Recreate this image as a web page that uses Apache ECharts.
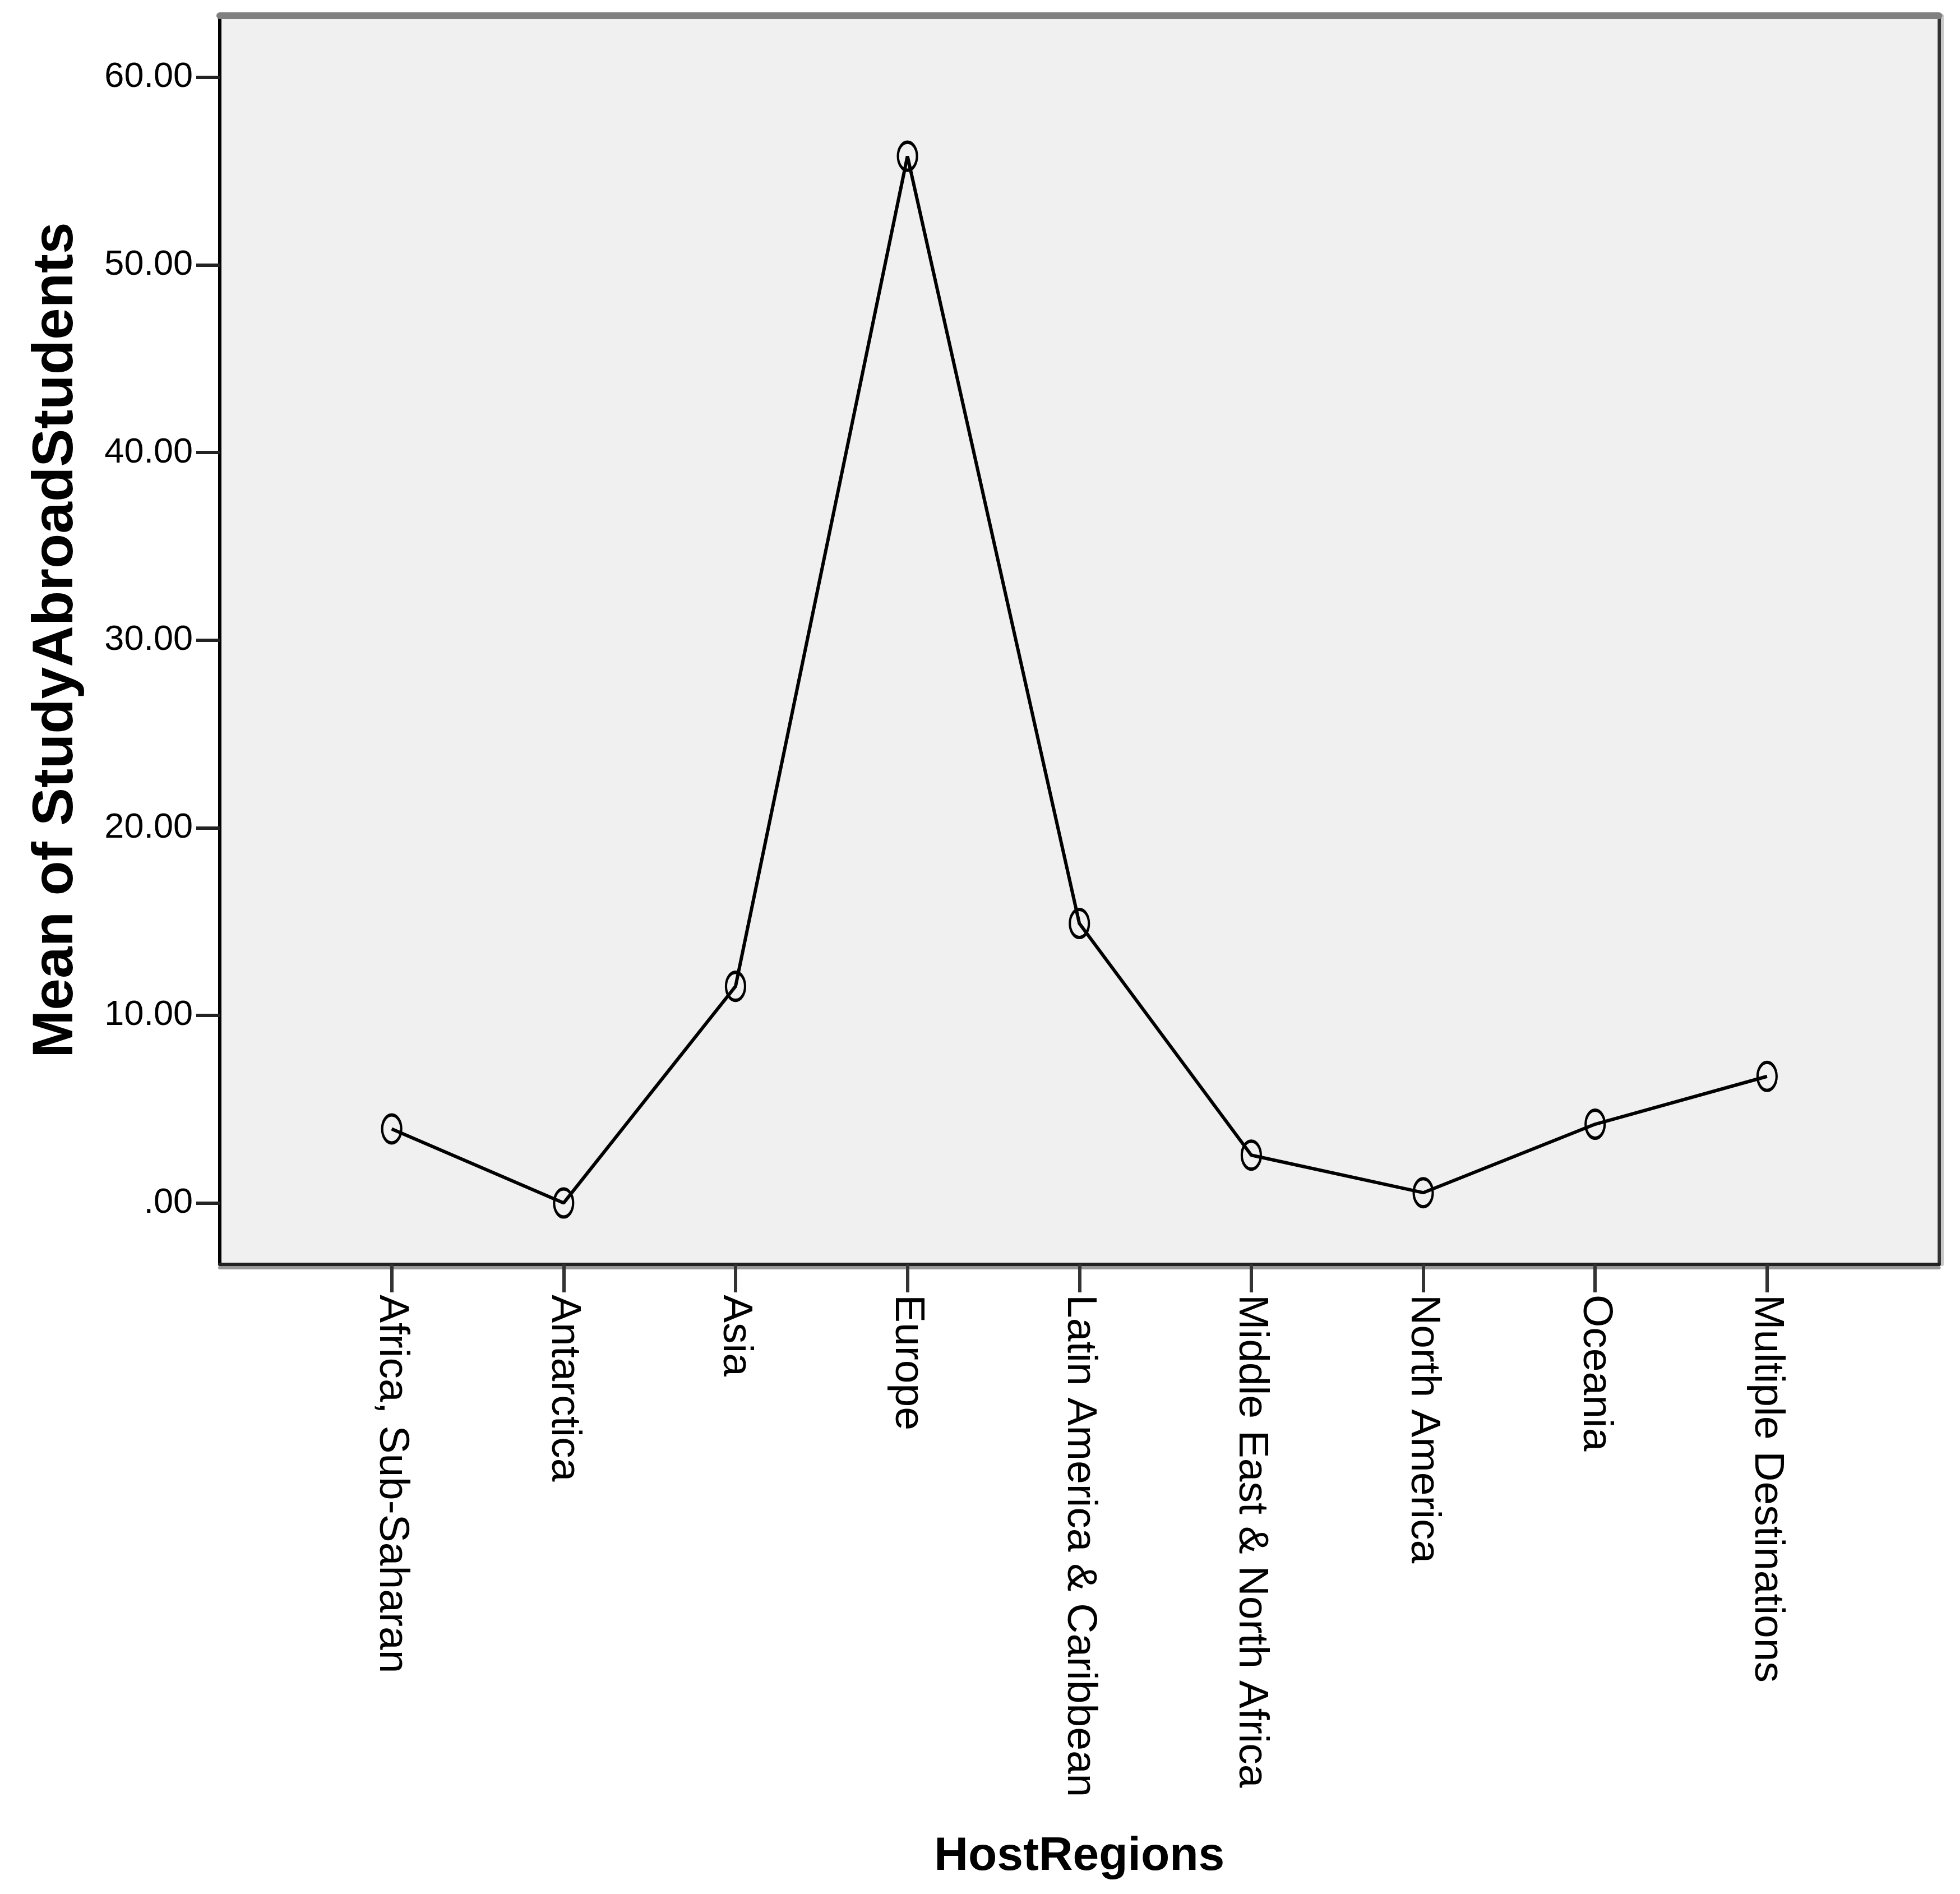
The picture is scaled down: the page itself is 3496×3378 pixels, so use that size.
<!DOCTYPE html>
<html>
<head>
<meta charset="utf-8">
<script src="https://cdn.jsdelivr.net/npm/echarts@6/dist/echarts.min.js"></script>
<style>
html,body{margin:0;padding:0;background:#fff;}
#chart{width:3496px;height:3378px;}
</style>
</head>
<body>
<div id="chart"></div>
<script>
const regions = ['Africa, Sub-Saharan', 'Antarctica', 'Asia', 'Europe', 'Latin America & Caribbean', 'Middle East & North Africa', 'North America', 'Oceania', 'Multiple Destinations'];
const means = [3.95, 0.0, 11.55, 55.8, 14.9, 2.55, 0.55, 4.2, 6.75];
const yTicks = [0, 10, 20, 30, 40, 50, 60];
const yTickLabels = ['.00', '10.00', '20.00', '30.00', '40.00', '50.00', '60.00'];
const xTitle = 'HostRegions';
const yTitle = 'Mean of StudyAbroadStudents';

const xCats = [''].concat(regions, [' ']);
const chart = echarts.init(document.getElementById('chart'), null, {renderer: 'canvas'});
const baseFont = "'Liberation Sans', Arial, sans-serif";
chart.setOption({
  backgroundColor: '#ffffff',
  animation: false,
  grid: {left: 392, right: 30, top: 28, bottom: 1123, show: true, backgroundColor: '#f0f0f0', borderWidth: 0},
  xAxis: [{
    type: 'category', data: xCats, boundaryGap: false,
    axisLine: {onZero: false, lineStyle: {color: '#222', width: 6, shadowColor: '#999', shadowOffsetY: 6, shadowBlur: 0}},
    axisTick: {show: true, length: 50, interval: function (i) { return i > 0 && i <= regions.length; }, lineStyle: {color: '#333', width: 6}},
    axisLabel: {interval: 0, rotate: -90, margin: 54, color: '#000', fontSize: 75, fontFamily: baseFont},
    splitLine: {show: false},
    name: xTitle, nameLocation: 'middle', nameGap: 1015,
    nameTextStyle: {fontSize: 84, fontWeight: 'bold', color: '#000', fontFamily: baseFont}
  }, {
    type: 'value', position: 'top', min: 0, max: 1,
    axisLine: {show: true, onZero: false, lineStyle: {color: '#808080', width: 12}},
    axisTick: {show: false}, axisLabel: {show: false}, splitLine: {show: false}
  }],
  yAxis: [{
    type: 'value', min: -3.27, max: 63.29,
    axisLine: {show: true, onZero: false, lineStyle: {color: '#000', width: 6}},
    axisTick: {show: true, customValues: yTicks, length: 42, lineStyle: {color: '#222', width: 6}},
    axisLabel: {customValues: yTicks, margin: 48, color: '#000', fontSize: 63, fontFamily: baseFont,
      padding: [16, 0, 0, 0],
      formatter: function (v) { const k = yTicks.indexOf(v); return k >= 0 ? yTickLabels[k] : ''; }},
    splitLine: {show: false},
    name: yTitle, nameLocation: 'middle', nameRotate: 90, nameGap: 240,
    nameTextStyle: {fontSize: 102, fontWeight: 'bold', color: '#000', fontFamily: baseFont}
  }, {
    type: 'value', position: 'right', min: 0, max: 1,
    axisLine: {show: true, onZero: false, lineStyle: {color: '#333', width: 6, shadowColor: '#c8c8c8', shadowOffsetX: 5, shadowBlur: 0}},
    axisTick: {show: false}, axisLabel: {show: false}, splitLine: {show: false}
  }],
  series: [{
    type: 'line',
    xAxisIndex: 0, yAxisIndex: 0,
    data: regions.map(function (r, i) { return [r, means[i]]; }),
    lineStyle: {color: '#000', width: 6},
    symbol: 'path://M0,-1A1,1,0,1,1,0,1A1,1,0,1,1,0,-1Z',
    symbolSize: [34, 50],
    itemStyle: {color: 'rgba(0,0,0,0)', borderColor: '#000', borderWidth: 5},
    z: 5
  }]
});
</script>
</body>
</html>
